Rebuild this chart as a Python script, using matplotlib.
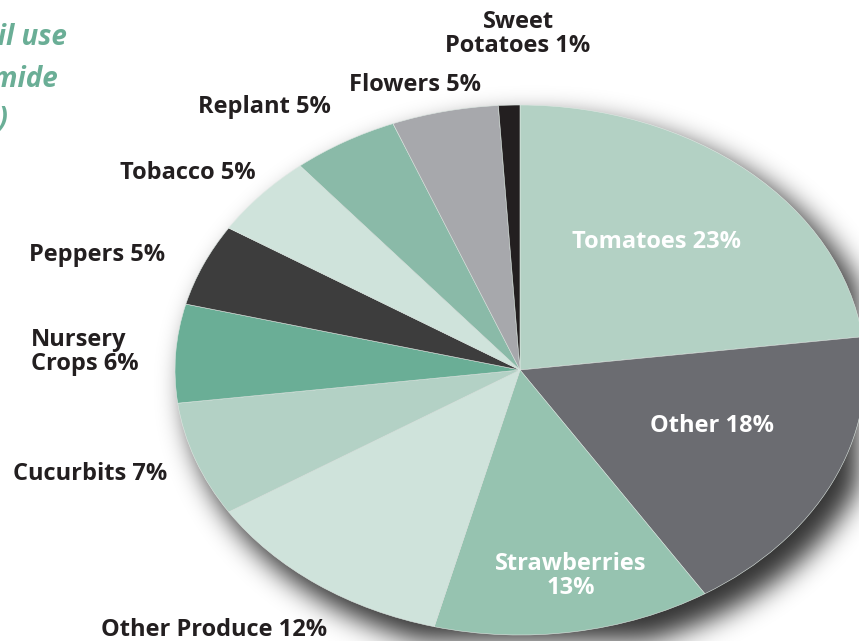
import numpy as np
import matplotlib.pyplot as plt

# Dữ liệu (theo chiều kim đồng hồ, bắt đầu từ 12 giờ)
crops = ['Tomatoes', 'Other', 'Strawberries', 'Other Produce', 'Cucurbits',
         'Nursery Crops', 'Peppers', 'Tobacco', 'Replant', 'Flowers', 'Sweet Potatoes']
shares = [23, 18, 13, 12, 7, 6, 5, 5, 5, 5, 1]
colors = ['#b3d1c4', '#6b6c71', '#96c3b0', '#cfe3db', '#b3d1c5',
          '#6aae96', '#3d3d3d', '#cfe3db', '#8abaa8', '#a7a8ac', '#231f20']
label_texts = ['Tomatoes 23%', 'Other 18%', 'Strawberries\n13%', 'Other Produce 12%',
               'Cucurbits 7%', 'Nursery\nCrops 6%', 'Peppers 5%', 'Tobacco 5%',
               'Replant 5%', 'Flowers 5%', 'Sweet\nPotatoes 1%']

W, H = 859, 641
cx, cy, a, b = 520, 370, 345, 265  # tâm và bán trục của hình elip (pixel)

fig = plt.figure(figsize=(W / 100, H / 100), dpi=100)
fig.patch.set_facecolor('white')

# Lớp nền: bóng đổ mờ
bg = fig.add_axes([0, 0, 1, 1])
bg.set_xlim(0, W)
bg.set_ylim(H, 0)
bg.axis('off')

yy, xx = np.mgrid[0:H, 0:W]
mask = (((xx - (cx + 14)) / (a + 4)) ** 2 + ((yy - (cy + 16)) / (b + 4)) ** 2 <= 1).astype(float)
sigma = 13
k = np.arange(-3 * sigma, 3 * sigma + 1)
g = np.exp(-k ** 2 / (2 * sigma ** 2))
g /= g.sum()
blur = np.apply_along_axis(lambda r: np.convolve(r, g, mode='same'), 1, mask)
blur = np.apply_along_axis(lambda c: np.convolve(c, g, mode='same'), 0, blur)
shadow = np.zeros((H, W, 4))
shadow[..., 3] = blur * 0.8
bg.imshow(shadow, extent=(0, W, H, 0), interpolation='bilinear')

# Biểu đồ tròn (kéo giãn thành elip)
pie_ax = fig.add_axes([(cx - a) / W, (H - cy - b) / H, 2 * a / W, 2 * b / H])
pie_ax.pie(shares, colors=colors, startangle=90, counterclock=False, radius=1,
           wedgeprops=dict(linewidth=0.4, edgecolor='#dfe9e4'))
pie_ax.set_aspect('auto')
pie_ax.set_xlim(-1, 1)
pie_ax.set_ylim(-1, 1)
pie_ax.axis('off')

# Lớp chữ
top = fig.add_axes([0, 0, 1, 1])
top.set_xlim(0, W)
top.set_ylim(H, 0)
top.axis('off')

font = 'Open Sans'
dark = '#231f20'
label_pos = {
    'Tomatoes': (656, 242, 'center', 'white'),
    'Other': (712, 426, 'center', 'white'),
    'Strawberries': (571, 576, 'center', 'white'),
    'Other Produce': (214, 630, 'center', dark),
    'Cucurbits': (90, 474, 'center', dark),
    'Nursery Crops': (31, 352, 'left', dark),
    'Peppers': (97, 255, 'center', dark),
    'Tobacco': (188, 173, 'center', dark),
    'Replant': (264, 107, 'center', dark),
    'Flowers': (415, 85, 'center', dark),
    'Sweet Potatoes': (518, 34, 'center', dark),
}
for name, txt in zip(crops, label_texts):
    x, y, ha, col = label_pos[name]
    top.text(x, y, txt, ha=ha, va='center', multialignment=ha, fontsize=17,
             fontweight='bold', family=font, color=col, linespacing=0.95)

# Tiêu đề (bị cắt ở mép trái)
title_lines = [('Preplant soil use', 67, 38), ('of methyl bromide', 58, 80), ('(percent)', 8, 119)]
for txt, x, y in title_lines:
    top.text(x, y, txt, ha='right', va='center', fontsize=20, fontweight='bold',
             style='italic', family=font, color='#6aae96')

fig.savefig('out.png', dpi=100)
